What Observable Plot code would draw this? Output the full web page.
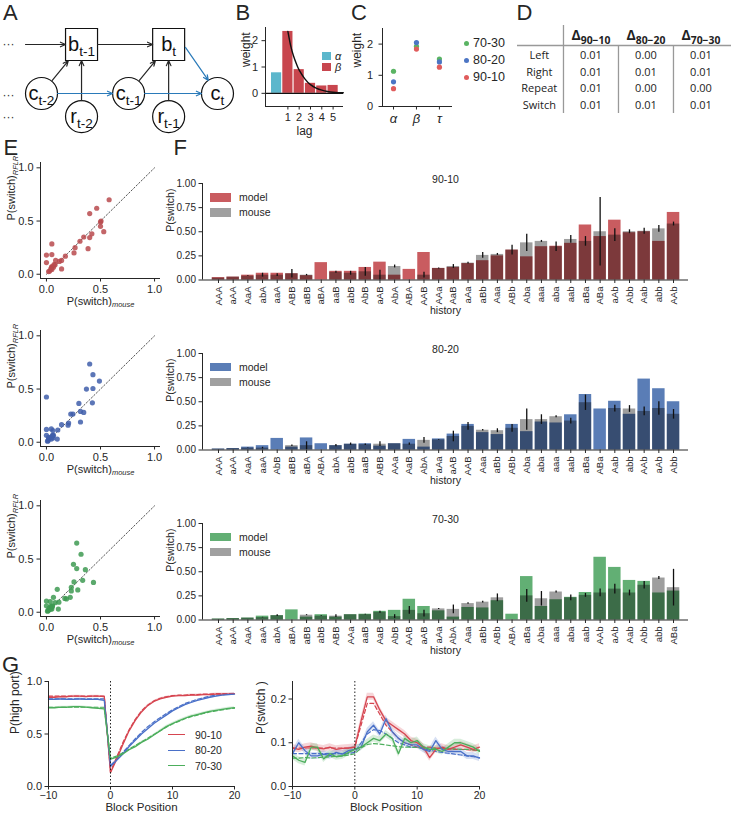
<!DOCTYPE html>
<html><head><meta charset="utf-8">
<script src="https://cdn.jsdelivr.net/npm/d3@7"></script>
<script src="https://cdn.jsdelivr.net/npm/@observablehq/plot@0.6"></script>
<style>
body{margin:0;background:#fff;}
#root{position:relative;width:731px;height:817px;overflow:hidden;background:#fff;font-family:"Liberation Sans",Arial,sans-serif;color:#262626;}
.abs{position:absolute;white-space:nowrap;}
</style></head><body><div id="root"></div><script>
// ---------------- DATA ----------------
// Panel A: diagram nodes (diagram grid units) and edges
const aNodes = [
  {id:"bt1", kind:"box", main:"b", sub:"t-1", col:0.455, row:0},
  {id:"bt",  kind:"box", main:"b", sub:"t",   col:1.445, row:0},
  {id:"ct2", kind:"circle", main:"c", sub:"t-2", col:0, row:1},
  {id:"rt2", kind:"circle", main:"r", sub:"t-2", col:0.455, row:1.47},
  {id:"ct1", kind:"circle", main:"c", sub:"t-1", col:0.99, row:1},
  {id:"rt1", kind:"circle", main:"r", sub:"t-1", col:1.445, row:1.47},
  {id:"ct",  kind:"circle", main:"c", sub:"t",   col:2, row:1}
];
const aDots = [{id:"d0", col:-0.375, row:0}, {id:"d1", col:-0.375, row:1.03}, {id:"d2", col:-0.375, row:1.49}];
const aAnchors = [{id:"btR", col:1.636, row:0.06}];
const aEdges = [
  {from:"d0", to:"bt1", type:"lead"},
  {from:"bt1", to:"bt", type:"state"},
  {from:"ct2", to:"bt1", type:"input"},
  {from:"ct1", to:"bt", type:"input"},
  {from:"rt2", to:"bt1", type:"reward"},
  {from:"rt1", to:"bt", type:"reward"},
  {from:"ct2", to:"ct1", type:"choice"},
  {from:"ct1", to:"ct", type:"choice"},
  {from:"btR", to:"ct", type:"policy"}
];
// Panel B
const bLag = [0, 1, 2, 3, 4, 5];
const bWeight = [0.78, 2.35, 0.9, 0.38, 0.28, 0.3];
const bParam = ["α", "β", "β", "β", "β", "β"];
const fitLag = [1, 1.25, 1.5, 1.75, 2, 2.5, 3, 3.5, 4, 4.5, 5, 5.5, 5.9];
const fitWeight = [2.35, 1.8, 1.42, 1.12, 0.88, 0.55, 0.33, 0.2, 0.12, 0.07, 0.04, 0.025, 0.02];
const bTicks = [1, 2, 3, 4, 5];
// Panel C
const cParams = ["α", "β", "τ"];
const cConds = ["70-30", "80-20", "90-10"];
const cVals7030 = [1.13, 1.93, 1.52];
const cVals8020 = [0.79, 2.05, 1.43];
const cVals9010 = [0.57, 1.84, 1.26];
// Panel D
const dRows = ["Left", "Right", "Repeat", "Switch"];
const dHeads = ["90−10", "80−20", "70−30"];
const d9010 = [0.01, 0.01, 0.01, 0.01];
const d8020 = [0.00, 0.01, 0.00, 0.01];
const d7030 = [0.01, 0.01, 0.00, 0.01];
// Panels E/F
const hist9010 = ["AAA","aAA","AaA","abA","aaA","ABB","aBB","aBA","aaB","abB","AbB","aAB","AbA","ABA","AAB","AAa","AaB","aAa","aBb","Aaa","ABb","Aba","aaa","aba","aab","aBa","ABa","aAb","Abb","Aab","abb","AAb"];
const model9010 = [0.025,0.03,0.05,0.07,0.07,0.065,0.045,0.18,0.09,0.09,0.13,0.185,0.05,0.11,0.285,0.12,0.13,0.17,0.20,0.25,0.31,0.24,0.345,0.35,0.38,0.57,0.45,0.62,0.49,0.50,0.40,0.70];
const mouse9010 = [0.02,0.03,0.04,0.05,0.05,0.065,0.05,0.0,0.08,0.07,0.085,0.05,0.14,0.0,0.05,0.12,0.14,0.175,0.255,0.265,0.31,0.385,0.40,0.345,0.42,0.40,0.50,0.465,0.50,0.505,0.53,0.58];
const err9010 = [0,0,0.005,0.02,0.015,0.045,0.008,0,0.01,0.02,0.045,0.05,0.015,0,0.03,0.005,0.02,0.01,0.03,0.01,0.05,0.09,0.01,0.05,0.04,0.05,0.355,0.065,0.02,0.03,0.035,0.02];
const hist8020 = ["AAA","aAA","AaA","aaA","AbB","aBB","aBA","ABA","abA","abB","aaB","ABB","AAa","AaB","AbA","aAa","aAB","AAB","Aaa","aBb","ABb","Aba","aba","aaa","aab","aBa","ABa","Aab","abb","AAb","aAb","Abb"];
const model8020 = [0.01,0.015,0.03,0.045,0.12,0.03,0.125,0.065,0.045,0.06,0.065,0.04,0.065,0.11,0.03,0.115,0.165,0.265,0.18,0.16,0.265,0.19,0.29,0.28,0.365,0.575,0.425,0.505,0.37,0.735,0.635,0.50];
const mouse8020 = [0.01,0.015,0.02,0.02,0.0,0.045,0.045,0.0,0.045,0.06,0.055,0.06,0.065,0.06,0.10,0.105,0.14,0.245,0.205,0.20,0.225,0.315,0.315,0.345,0.30,0.49,0.0,0.43,0.425,0.40,0.43,0.37];
const err8020 = [0,0,0.003,0.008,0,0.008,0.04,0,0.012,0.012,0.008,0.025,0,0.012,0.03,0.005,0.055,0.04,0.008,0.02,0.04,0.11,0.05,0.01,0.03,0.08,0,0.035,0.035,0.045,0.07,0.05];
const hist7030 = ["AAA","aAA","AaA","aaA","abA","aBA","aBB","abB","ABB","AAa","aaB","AaB","AbB","AAB","aAB","aAa","AbA","Aaa","aBb","ABb","ABA","aBa","Aba","aaa","aba","aab","AAb","aAb","Aab","Abb","abb","ABa"];
const model7030 = [0.01,0.015,0.02,0.04,0.045,0.105,0.03,0.055,0.03,0.055,0.06,0.09,0.10,0.215,0.14,0.095,0.03,0.13,0.125,0.20,0.06,0.45,0.14,0.21,0.235,0.285,0.65,0.545,0.41,0.40,0.28,0.30];
const mouse7030 = [0.01,0.015,0.02,0.025,0.045,0.0,0.05,0.04,0.04,0.055,0.055,0.08,0.035,0.10,0.065,0.115,0.11,0.17,0.185,0.23,0.0,0.25,0.22,0.29,0.23,0.255,0.28,0.32,0.28,0.36,0.435,0.335];
const err7030 = [0,0,0,0.003,0.01,0,0.005,0.005,0.015,0,0.004,0.01,0.02,0.04,0.035,0.005,0.045,0.008,0.01,0.04,0,0.065,0.075,0.01,0.03,0.02,0.04,0.05,0.03,0.04,0.015,0.19];
const unityLine = [0, 1];
// Panel G
const blockPos = [-10,-9,-8,-7,-6,-5,-4,-3,-2,-1,0,1,2,3,4,5,6,7,8,9,10,11,12,13,14,15,16,17,18,19,20];
const gConds = ["90-10", "80-20", "70-30"];
const hp9010 = [0.85,0.85,0.855,0.855,0.86,0.86,0.855,0.86,0.86,0.855,0.13,0.26,0.40,0.53,0.63,0.71,0.77,0.81,0.835,0.85,0.86,0.865,0.865,0.87,0.87,0.875,0.875,0.88,0.88,0.88,0.885];
const hp8020 = [0.83,0.83,0.835,0.83,0.83,0.835,0.83,0.83,0.83,0.82,0.19,0.25,0.31,0.38,0.44,0.50,0.55,0.60,0.64,0.68,0.72,0.75,0.78,0.80,0.82,0.835,0.85,0.86,0.87,0.875,0.88];
const hp7030 = [0.75,0.75,0.755,0.755,0.76,0.76,0.755,0.75,0.745,0.74,0.26,0.28,0.31,0.35,0.38,0.42,0.45,0.49,0.53,0.57,0.60,0.625,0.65,0.67,0.685,0.70,0.715,0.725,0.735,0.745,0.75];
const hpM9010 = [0.86,0.86,0.86,0.86,0.86,0.86,0.86,0.86,0.86,0.86,0.14,0.28,0.42,0.54,0.64,0.72,0.775,0.815,0.84,0.855,0.865,0.87,0.87,0.875,0.875,0.88,0.88,0.885,0.885,0.885,0.885];
const hpM8020 = [0.835,0.835,0.835,0.835,0.835,0.835,0.835,0.835,0.835,0.835,0.2,0.26,0.325,0.39,0.455,0.515,0.57,0.615,0.655,0.695,0.73,0.76,0.79,0.81,0.83,0.845,0.86,0.87,0.875,0.88,0.885];
const hpM7030 = [0.755,0.755,0.755,0.755,0.755,0.755,0.755,0.755,0.755,0.755,0.27,0.29,0.32,0.355,0.39,0.425,0.46,0.495,0.53,0.565,0.595,0.62,0.645,0.665,0.68,0.695,0.71,0.72,0.73,0.74,0.745];
const sw9010 = [0.088,0.085,0.09,0.092,0.088,0.086,0.09,0.085,0.087,0.088,0.09,0.15,0.205,0.205,0.175,0.15,0.14,0.13,0.12,0.105,0.10,0.09,0.066,0.085,0.09,0.085,0.09,0.095,0.09,0.085,0.09];
const sw8020 = [0.075,0.10,0.082,0.07,0.07,0.074,0.07,0.078,0.074,0.082,0.085,0.09,0.125,0.14,0.12,0.155,0.125,0.11,0.10,0.095,0.095,0.085,0.08,0.105,0.085,0.08,0.08,0.08,0.07,0.07,0.065];
const sw7030 = [0.07,0.06,0.055,0.09,0.09,0.063,0.075,0.068,0.07,0.078,0.085,0.09,0.10,0.11,0.105,0.12,0.11,0.075,0.11,0.10,0.105,0.09,0.085,0.085,0.08,0.09,0.10,0.10,0.095,0.09,0.08];
const swM9010 = [0.088,0.088,0.088,0.088,0.088,0.088,0.088,0.088,0.088,0.088,0.09,0.14,0.19,0.19,0.165,0.14,0.125,0.11,0.10,0.095,0.09,0.09,0.09,0.088,0.087,0.086,0.085,0.085,0.084,0.083,0.082];
const swM8020 = [0.075,0.075,0.075,0.075,0.075,0.075,0.075,0.075,0.075,0.075,0.078,0.10,0.12,0.13,0.128,0.12,0.11,0.10,0.095,0.09,0.09,0.086,0.083,0.08,0.078,0.076,0.074,0.072,0.07,0.068,0.066];
const swM7030 = [0.065,0.065,0.066,0.065,0.066,0.067,0.068,0.069,0.07,0.072,0.075,0.088,0.096,0.098,0.097,0.095,0.093,0.091,0.09,0.09,0.089,0.088,0.088,0.087,0.087,0.086,0.086,0.085,0.085,0.084,0.083];
const semLeft = [0.01, 0.01, 0.01];
const semRight = [0.008, 0.008, 0.008];

// ---------------- STYLE ----------------
const FONT = '"Liberation Sans", Arial, sans-serif';
const INK = "#262626";
const alphaColor = "#5cb7cc", betaColor = "#c8464e";
const cColors = ["#5ab463", "#4c75c4", "#e05c5c"]; // 70-30, 80-20, 90-10
const gColors = ["#d64550", "#4a70c8", "#4cae5c"]; // 90-10, 80-20, 70-30
const fColors = {"90-10": "#c44e52", "80-20": "#4c72b0", "70-30": "#55a868"};
const eColors = {"90-10": "#b94a4e", "80-20": "#3f5eaa", "70-30": "#3e9a52"};
const fmtInt = d3.format("d"), fmt1 = d3.format(".1f"), fmt2 = d3.format(".2f");

const root = document.getElementById("root");
const SVGNS = "http://www.w3.org/2000/svg";
function subscriptify(svg, opt = {}) {
  const scale = opt.scale || 0.68, shift = opt.shift || "0.38em";
  svg.querySelectorAll("text").forEach(t => {
    const s = t.textContent;
    const m = s.match(/^(.*?)_([ib]?)\{(.+)\}$/);
    if (!m) return;
    t.textContent = "";
    const a = document.createElementNS(SVGNS, "tspan"); a.textContent = m[1]; t.appendChild(a);
    const b = document.createElementNS(SVGNS, "tspan"); b.textContent = m[3];
    b.setAttribute("font-size", (scale * 100) + "%"); b.setAttribute("dy", shift);
    if (m[2] === "i") b.setAttribute("font-style", "italic");
    if (m[2] === "b") b.setAttribute("font-weight", "bold");
    t.appendChild(b);
  });
}
function framed(f, opts) {
  const m = {ml: 40, mr: 10, mt: 12, mb: 40, ...f};
  const svg = Plot.plot({
    width: m.ml + m.fw + m.mr, height: m.mt + m.fh + m.mb,
    marginLeft: m.ml, marginRight: m.mr, marginTop: m.mt, marginBottom: m.mb,
    style: {fontFamily: m.font || FONT, fontSize: "10px", color: INK, background: "transparent", overflow: "visible"},
    ...opts
  });
  subscriptify(svg, m.sub || {});
  svg.style.position = "absolute";
  svg.style.left = (m.fx - m.ml) + "px";
  svg.style.top = (m.fy - m.mt) + "px";
  root.appendChild(svg);
  return svg;
}
function swatch(x, y, w, h, css) {
  const d = document.createElement("div"); d.className = "abs";
  Object.assign(d.style, {left: x + "px", top: y + "px", width: w + "px", height: h + "px"}, css);
  root.appendChild(d); return d;
}
function label(x, cy, text, size, css = {}) {
  const d = document.createElement("div"); d.className = "abs"; d.textContent = text;
  Object.assign(d.style, {left: x + "px", top: (cy - size / 2) + "px", fontSize: size + "px", lineHeight: size + "px"}, css);
  root.appendChild(d); return d;
}
function letter(x, capTop, ch) { label(x, capTop - 2.6 + 11, ch, 22); }
const spine = {stroke: INK, strokeWidth: 1};
const tickOpts = {tickSize: 3.5, tickPadding: 3, label: null};

// ---------------- A: diagram ----------------
const allPts = new Map([...aNodes, ...aDots, ...aAnchors].map(d => [d.id, d]));
const edgeRows = aEdges.map(e => ({...e, a: allPts.get(e.from), b: allPts.get(e.to)}));
const edgeMark = (type, stroke, insetStart, insetEnd) => Plot.arrow(edgeRows.filter(e => e.type === type), {
  x1: d => d.a.col, y1: d => d.a.row, x2: d => d.b.col, y2: d => d.b.row,
  stroke, strokeWidth: 1.2, headLength: 7, headAngle: 48, insetStart, insetEnd
});
const aBlack = "#262626", aBlue = "#2a7ab9";
framed({fx: 0, fy: 0, fw: 230, fh: 140, ml: 0, mr: 0, mt: 0, mb: 0}, {
  x: {domain: [-0.466, 2.148], axis: null},
  y: {domain: [-0.898, 1.959], reverse: true, axis: null},
  marks: [
    Plot.dot(aNodes.filter(d => d.kind === "circle"), {x: "col", y: "row", r: 16, fill: "white", stroke: "#111", strokeWidth: 1.2}),
    Plot.dot(aNodes.filter(d => d.kind === "box"), {x: "col", y: "row", r: 18.05, symbol: "square", fill: "white", stroke: "#111", strokeWidth: 1.2}),
    edgeMark("lead", aBlack, 17, 16),
    edgeMark("state", aBlack, 16, 16),
    edgeMark("input", aBlack, 17, 21),
    edgeMark("reward", aBlack, 16, 16),
    edgeMark("choice", aBlue, 16, 16),
    edgeMark("policy", aBlue, 0, 16),
    Plot.text(aNodes, {x: "col", y: "row", text: d => `${d.main}_{${d.sub}}`, fontSize: 20, fill: "#111"}),
    Plot.text(aDots, {x: "col", y: "row", text: () => "···", fontSize: 12, fill: "#333"})
  ]
});

// ---------------- B ----------------
const bRows = bLag.map((l, i) => ({lag: l, w: bWeight[i], p: bParam[i]}));
const fitRows = fitLag.map((l, i) => ({lag: l, w: fitWeight[i]}));
framed({fx: 265, fy: 27, fw: 78, fh: 79, ml: 35, mr: 5, mt: 5, mb: 35}, {
  x: {domain: [-0.98, 5.92]}, y: {domain: [-0.5, 2.5]},
  color: {domain: ["α", "β"], range: [alphaColor, betaColor]},
  marks: [
    Plot.rectY(bRows, {x1: d => d.lag - 0.45, x2: d => d.lag + 0.45, y1: 0, y2: "w", fill: "p"}),
    Plot.ruleY([0], {stroke: "#111", strokeWidth: 1.2}),
    Plot.line(fitRows, {x: "lag", y: "w", stroke: "#111", strokeWidth: 1.4, curve: "natural"}),
    Plot.ruleX([-0.98], spine), Plot.ruleY([-0.5], spine),
    Plot.axisY({ticks: [0, 1, 2], tickFormat: fmtInt, ...tickOpts, tickPadding: 4, fontSize: 11}),
    Plot.axisX({ticks: bTicks, tickFormat: fmtInt, ...tickOpts, fontSize: 11}),
    Plot.text(["weight"], {frameAnchor: "left", dx: -19, rotate: -90, fontSize: 12}),
    Plot.text(["lag"], {frameAnchor: "bottom", dy: 28, fontSize: 12})
  ]
});
swatch(322, 51.7, 9.3, 8.3, {background: alphaColor});
label(335, 56, "α", 11, {fontStyle: "italic"});
swatch(322, 63.3, 9.3, 8, {background: betaColor});
label(335, 67.5, "β", 11, {fontStyle: "italic"});

// ---------------- C ----------------
const cRows = [];
[cVals7030, cVals8020, cVals9010].forEach((vals, k) => vals.forEach((v, i) => cRows.push({cond: cConds[k], i, v})));
framed({fx: 382, fy: 28, fw: 70, fh: 78, ml: 35, mr: 5, mt: 5, mb: 35}, {
  x: {domain: [-0.48, 2.57]}, y: {domain: [0, 2.5]},
  color: {domain: cConds, range: cColors},
  marks: [
    Plot.dot(cRows, {x: "i", y: "v", r: 2.6, fill: "cond"}),
    Plot.ruleX([-0.48], spine), Plot.ruleY([0], spine),
    Plot.axisY({ticks: [0, 1, 2], tickFormat: fmtInt, ...tickOpts, tickPadding: 6, fontSize: 11}),
    Plot.axisX({ticks: [0, 1, 2], tickFormat: i => cParams[i], ...tickOpts, tickPadding: 4, fontSize: 13, fontStyle: "italic"}),
    Plot.text(["weight"], {frameAnchor: "left", dx: -25, rotate: -90, fontSize: 12})
  ]
});
cConds.forEach((c, k) => {
  const cy = 43 + 17 * k;
  swatch(463.5, cy - 2.5, 5, 5, {background: cColors[k], borderRadius: "50%"});
  label(473, cy, c, 12.5);
});

// ---------------- D: table ----------------
const dCells = [];
[d9010, d8020, d7030].forEach((col, c) => col.forEach((v, r) => dCells.push({col: c + 1, row: r, v})));
framed({fx: 517, fy: 20, fw: 214, fh: 100, ml: 0, mr: 0, mt: 0, mb: 0, font: '"Open Sans", sans-serif', sub: {scale: 0.74, shift: "0.42em"}}, {
  x: {domain: [-0.336, 3.555], axis: null},
  y: {domain: [-2.1, 3.9], reverse: true, axis: null},
  marks: [
    Plot.ruleY([-0.6], {stroke: "#999", strokeWidth: 1.3}),
    Plot.ruleX([0.5], {y1: -1.8, y2: 3.48, stroke: "#999", strokeWidth: 1.3}),
    Plot.ruleX([1.5, 2.5], {y1: -0.6, y2: 3.48, stroke: "#999", strokeWidth: 1.3}),
    Plot.text(dRows, {x: () => 0.06, y: (d, i) => i, fontSize: 11, fill: "#222"}),
    Plot.text(dCells, {x: "col", y: "row", text: d => d.v.toFixed(2), fontSize: 11, fill: "#222"}),
    Plot.text(dHeads, {x: (d, i) => i + 1, y: () => -1.2, text: d => `Δ_b{${d}}`, fontSize: 14, fontWeight: "bold", fill: "#222"})
  ]
});

// ---------------- E: scatter ----------------
function ePlot(fy, cond, mouse, model) {
  const pts = mouse.map((m, i) => ({mouse: m, model: model[i]}));
  framed({fx: 40, fy, fw: 120, fh: 116, ml: 40, mr: 10, mt: 8, mb: 36}, {
    x: {domain: [-0.055, 1.055]}, y: {domain: [-0.04, 1.05]},
    marks: [
      Plot.ruleX([-0.055], spine), Plot.ruleY([-0.04], spine),
      Plot.line(unityLine, {x: d => d, y: d => d, stroke: "#555", strokeWidth: 1, strokeDasharray: "1.5,2"}),
      Plot.dot(pts, {x: "mouse", y: "model", r: 2.6, fill: eColors[cond], fillOpacity: 0.85}),
      Plot.axisX({ticks: [0, 0.5, 1], tickFormat: fmt1, ...tickOpts, fontSize: 11}),
      Plot.axisY({ticks: [0, 0.5, 1], tickFormat: fmt1, ...tickOpts, tickPadding: 3.5, fontSize: 11}),
      Plot.text(["P(switch)_i{mouse}"], {frameAnchor: "bottom", dy: 26, fontSize: 11}),
      Plot.text(["P(switch)_i{RFLR}"], {frameAnchor: "left", dx: -29, rotate: -90, fontSize: 11})
    ]
  });
}
ePlot(162, "90-10", mouse9010, model9010);
ePlot(330, "80-20", mouse8020, model8020);
ePlot(500, "70-30", mouse7030, model7030);

// ---------------- F: bars ----------------
function fPlot(fy, title, hist, model, mouse, err) {
  const rows = hist.map((h, i) => ({i, h, model: model[i], mouse: mouse[i], err: err[i]}));
  framed({fx: 202, fy, fw: 486, fh: 96.5, ml: 45, mr: 10, mt: 16, mb: 42}, {
    x: {domain: [-1.09, 32.02]}, y: {domain: [0, 1]},
    marks: [
      Plot.rectY(rows, {x1: d => d.i - 0.425, x2: d => d.i + 0.425, y1: 0, y2: "model", fill: fColors[title], fillOpacity: 0.92}),
      Plot.rectY(rows, {x1: d => d.i - 0.425, x2: d => d.i + 0.425, y1: 0, y2: "mouse", fill: "#000", fillOpacity: 0.38}),
      Plot.ruleX(rows.filter(d => d.err > 0), {x: "i", y1: d => d.mouse - d.err, y2: d => d.mouse + d.err, stroke: "#111", strokeWidth: 1.3}),
      Plot.ruleX([-1.09], spine), Plot.ruleY([0], spine),
      Plot.axisY({ticks: [0, 0.25, 0.5, 0.75, 1], tickFormat: fmt2, ...tickOpts, fontSize: 10}),
      Plot.axisX({ticks: rows.map(d => d.i), tickFormat: i => hist[i], tickRotate: -90, ...tickOpts, fontSize: 9.5}),
      Plot.text([title], {frameAnchor: "top", dy: -8, fontSize: 10.5}),
      Plot.text(["history"], {frameAnchor: "bottom", dy: 34, fontSize: 10.5}),
      Plot.text(["P(switch)"], {frameAnchor: "left", dx: -32, rotate: -90, fontSize: 10.5})
    ]
  });
  swatch(210, fy + 10, 21, 8.5, {background: fColors[title], opacity: 0.92});
  label(239, fy + 14.3, "model", 10.5);
  swatch(210, fy + 25, 21, 8.5, {background: "#a0a0a0"});
  label(239, fy + 29.3, "mouse", 10.5);
}
fPlot(183, "90-10", hist9010, model9010, mouse9010, err9010);
fPlot(352.5, "80-20", hist8020, model8020, mouse8020, err8020);
fPlot(522.5, "70-30", hist7030, model7030, mouse7030, err7030);

// ---------------- G ----------------
function gRowsOf(mouseArrs, modelArrs, sems) {
  const rows = [];
  gConds.forEach((c, k) => blockPos.forEach((x, i) => rows.push({cond: c, x, mouse: mouseArrs[k][i], model: modelArrs[k][i], sem: sems[k]})));
  return rows;
}
function gPlot(fx, fw, rows, ydomain, yticks, ylabel, ldx) {
  framed({fx, fy: 681, fw, fh: 105, ml: 48, mr: 10, mt: 8, mb: 34}, {
    x: {domain: [-10, 20]}, y: {domain: ydomain},
    color: {domain: gConds, range: gColors},
    marks: [
      Plot.areaY(rows, {x: "x", y1: d => d.mouse - d.sem, y2: d => d.mouse + d.sem, z: "cond", fill: "cond", fillOpacity: 0.22}),
      Plot.line(rows, {x: "x", y: "model", z: "cond", stroke: "cond", strokeWidth: 1.2, strokeDasharray: "4,2.5"}),
      Plot.line(rows, {x: "x", y: "mouse", z: "cond", stroke: "cond", strokeWidth: 1.3}),
      Plot.ruleX([0], {stroke: "#222", strokeWidth: 1, strokeDasharray: "1.5,2"}),
      Plot.ruleX([-10], spine), Plot.ruleY([ydomain[0]], spine),
      Plot.axisY({ticks: yticks, tickFormat: fmt1, ...tickOpts, fontSize: 11}),
      Plot.axisX({ticks: [-10, 0, 10, 20], ...tickOpts, tickPadding: 1.5, fontSize: 10.5}),
      Plot.text(["Block Position"], {frameAnchor: "bottom", dy: 24.5, fontSize: 11.5}),
      Plot.text([ylabel], {frameAnchor: "left", dx: ldx, rotate: -90, fontSize: 12})
    ]
  });
}
gPlot(48, 186, gRowsOf([hp9010, hp8020, hp7030], [hpM9010, hpM8020, hpM7030], semLeft), [0, 1], [0, 0.5, 1], "P(high port)", -33);
gPlot(292, 187, gRowsOf([sw9010, sw8020, sw7030], [swM9010, swM8020, swM7030], semRight), [0, 0.24], [0, 0.1, 0.2], "P(switch )", -31);
gConds.forEach((c, k) => {
  const cy = 735 + 15.5 * k;
  swatch(168, cy - 0.75, 17, 0, {borderTop: "1.5px solid " + gColors[k]});
  label(195, cy, c, 10.5);
});

// ---------------- panel letters ----------------
letter(3, 5, "A"); letter(235.5, 5, "B"); letter(351, 5, "C"); letter(516.5, 5, "D");
letter(3.5, 140, "E"); letter(173.5, 140, "F"); letter(2, 657, "G");
</script></body></html>
